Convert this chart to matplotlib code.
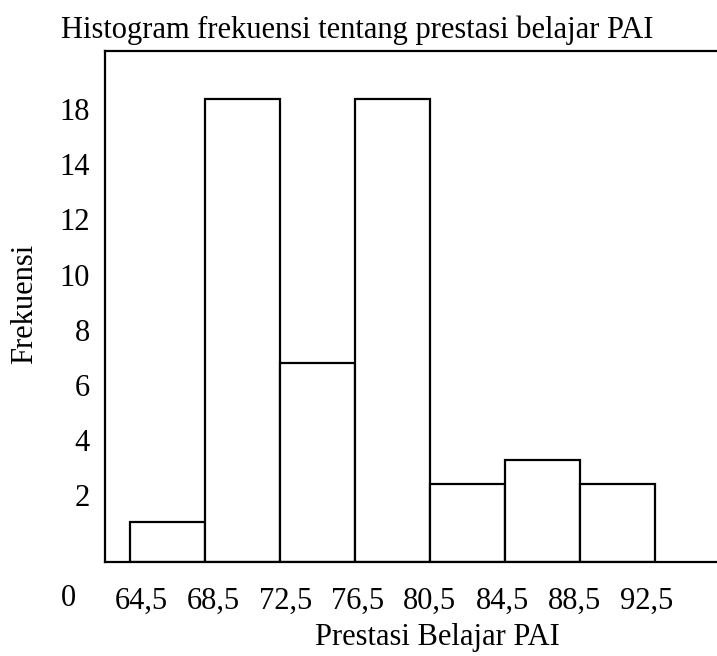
import matplotlib
matplotlib.use("Agg")
import matplotlib.pyplot as plt
import matplotlib.transforms as mtransforms

# class edges and frequencies (as drawn)
edges = [64.5, 68.5, 72.5, 76.5, 80.5, 84.5, 88.5, 92.5]
freq = [1.45, 16.8, 7.23, 16.8, 2.84, 3.72, 2.84]
ytick_pos = [2, 4, 6, 8, 10, 12, 14, 16]
ytick_labels = ["2", "4", "6", "8", "10", "12", "14", "18"]
xtick_labels = ["64,5", "68,5", "72,5", "76,5", "80,5", "84,5", "88,5", "92,5"]

plt.rcParams['font.family'] = ['Liberation Serif', 'DejaVu Serif']
FS = 22

fig = plt.figure(figsize=(7.17, 6.56), dpi=100)
ax = fig.add_axes([105 / 717, 1 - 562 / 656, 612 / 717, 511 / 656])

widths = [edges[i + 1] - edges[i] for i in range(len(freq))]
ax.bar(edges[:-1], freq, width=widths, align='edge',
       facecolor='white', edgecolor='black', linewidth=1.6)

ax.set_xlim(63.17, 95.8)
ax.set_ylim(0, 18.55)

# the labels in the original are spaced a bit tighter than the bars
xtick_pos = [65.1 + (e - edges[0]) * 0.962 for e in edges]
ax.set_xticks(xtick_pos)
ax.set_xticklabels(xtick_labels)
ax.set_yticks(ytick_pos)
ax.set_yticklabels(ytick_labels)
ax.tick_params(axis='both', length=0, labelsize=FS)
ax.tick_params(axis='x', pad=18)
ax.tick_params(axis='y', pad=11)

# y labels sit a little above their level in the original
offset = mtransforms.ScaledTranslation(0, 0.12, fig.dpi_scale_trans)
for lab in ax.get_yticklabels():
    lab.set_transform(lab.get_transform() + offset)

for side in ['left', 'top', 'bottom']:
    ax.spines[side].set_linewidth(1.6)
ax.spines['right'].set_visible(False)

ax.text(-0.059, -0.0706, "0", transform=ax.transAxes, fontsize=FS,
        ha='center', va='center')

ax.set_xlabel("Prestasi Belajar PAI", fontsize=FS)
ax.xaxis.set_label_coords(0.5425, -0.147)
ax.xaxis.label.set_va('center')
ax.set_ylabel("Frekuensi", fontsize=FS)
ax.yaxis.set_label_coords(-0.131, 0.506)
ax.yaxis.label.set_va('center')

fig.text(357 / 717, 1 - 38 / 656, "Histogram frekuensi tentang prestasi belajar PAI",
         fontsize=FS, ha='center', va='baseline')

fig.savefig("out.png", dpi=100)
